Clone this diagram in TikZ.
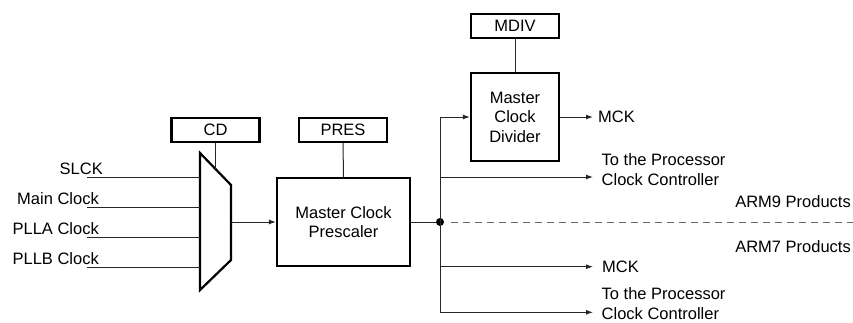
\documentclass[tikz,border=0pt]{standalone}
\usepackage{fontspec}
\setmainfont{Liberation Sans}
\usetikzlibrary{arrows.meta,positioning}

\begin{document}
\begin{tikzpicture}[
  x=1pt, y=-1pt,
  regbox/.style={draw, line width=2.2pt, minimum width=88pt, minimum height=24pt, inner sep=0pt},
  blockbox/.style={draw, line width=2.2pt, align=center, inner sep=0pt},
  sig/.style={line width=1pt, black!85},
  outlbl/.style={anchor=west, inner sep=5pt, align=left},
  dot/.style={circle, fill, inner sep=0pt, minimum size=8pt},
  >={Latex[length=7pt,width=5pt]},
  font=\fontsize{16.5}{19.5}\selectfont
]
\useasboundingbox (0,0) rectangle (853,322);

% Register boxes on top
\node[regbox] (cd)   at (215.5,130) {CD};
\node[regbox] (pres) at (343,130) {PRES};
\node[regbox] (mdiv) at (515,26) {MDIV};

% Prescaler and divider blocks
\node[blockbox, minimum width=133pt, minimum height=88pt] (presc) at (343.5,222) {Master Clock\\Prescaler};
\node[blockbox, minimum width=88pt, minimum height=88pt] (divider) at (515,117) {Master\\Clock\\Divider};

% Clock selection multiplexer
\coordinate (mux-tl) at (200,153);
\coordinate (mux-tr) at (231,185);
\coordinate (mux-br) at (231,260);
\coordinate (mux-bl) at (200,290);
\coordinate (mux-sel) at (215.5,169);
\coordinate (mux-out) at (231,222);
\draw[line width=2.2pt, line join=miter] (mux-tl) -- (mux-tr) -- (mux-br) -- (mux-bl) -- cycle;

% Clock inputs
\foreach \y/\lbl/\xe [count=\i] in {177/SLCK/103, 207/Main Clock/99, 237/PLLA Clock/99, 267/PLLB Clock/99} {
  \node[anchor=base east, inner sep=0pt] (in\i) at (\xe,\y-2.5) {\lbl};
  \coordinate (in\i-a) at (87,\y);
  \coordinate (in\i-b) at (200,\y);
  \draw[sig] (in\i-a) -- (in\i-b);
}

% Register links
\draw[sig] (cd.south) -- (mux-sel);
\draw[sig] (pres.south) -- (presc.north);
\draw[sig] (mdiv.south) -- (divider.north);
\draw[sig, ->] (mux-out) -- (presc.west);

% Distribution bus
\node[dot] (split) at (440,222) {};
\coordinate (bus-top) at (440,117);
\coordinate (bus-proc1) at (440,177);
\coordinate (bus-mck) at (440,266.7);
\coordinate (bus-bot) at (440,312.3);
\draw[sig] (presc.east) -- (split);
\draw[sig] (bus-top) -- (bus-bot);

% Outputs
\node[outlbl] (mck1)  at (593,117) {MCK};
\node[outlbl] (proc1) at (596.5,169.5) {To the Processor\\Clock Controller};
\node[outlbl] (mck2)  at (597,266.7) {MCK};
\node[outlbl] (proc2) at (596.5,303.5) {To the Processor\\Clock Controller};
\draw[sig, ->] (bus-top) -- (divider.west);
\draw[sig, ->] (divider.east) -- (mck1.west);
\draw[sig, ->] (bus-proc1) -- (593,177);
\draw[sig, ->] (bus-mck) -- (593,266.7);
\draw[sig, ->] (bus-bot) -- (593,312.3);

% Product family split
\coordinate (dash-start) at (451,222);
\coordinate (dash-end) at (853,222);
\draw[sig, gray!80!black, dash pattern=on 7pt off 5pt] (dash-start) -- (dash-end);
\node[anchor=base east, inner sep=0pt] (arm9) at (851,207) {ARM9 Products};
\node[anchor=base east, inner sep=0pt] (arm7) at (851,252) {ARM7 Products};
\end{tikzpicture}
\end{document}
